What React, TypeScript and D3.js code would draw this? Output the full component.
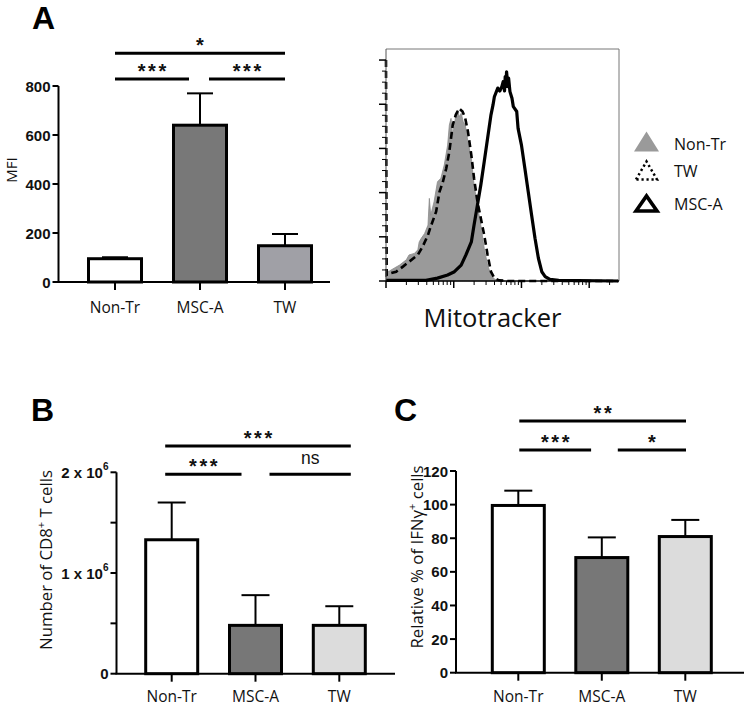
import React from 'react';
import * as d3 from 'd3';

// ---------- DATA ----------
const categories = ['Non-Tr', 'MSC-A', 'TW'];

const mfiMean = [95, 640, 148];
const mfiErr = [6, 130, 48];
const mfiTicks = [0, 200, 400, 600, 800];

const cd8Mean = [1330000, 480000, 480000];
const cd8Err = [370000, 300000, 190000];
const cd8Ticks = [0, 1000000, 2000000];
const cd8MinorTicks = [500000, 1500000];

const ifnMean = [99.5, 68.5, 81];
const ifnErr = [8.8, 12, 9.9];
const ifnTicks = [0, 20, 40, 60, 80, 100, 120];

type Sig = { a: number; b: number; label: string; level: number };
const mfiSig: Sig[] = [
  { a: 0, b: 2, label: '*', level: 1 },
  { a: 0, b: 1, label: '***', level: 0 },
  { a: 1, b: 2, label: '***', level: 0 },
];
const cd8Sig: Sig[] = [
  { a: 0, b: 2, label: '***', level: 1 },
  { a: 0, b: 1, label: '***', level: 0 },
  { a: 1, b: 2, label: 'ns', level: 0 },
];
const ifnSig: Sig[] = [
  { a: 0, b: 2, label: '**', level: 1 },
  { a: 0, b: 1, label: '***', level: 0 },
  { a: 1, b: 2, label: '*', level: 0 },
];

// Histogram (x = log10 decades of Mitotracker intensity, y = normalized count)
const nonTrX = [0, 0.05, 0.12, 0.2, 0.3, 0.34, 0.42, 0.47, 0.49, 0.52, 0.57, 0.62, 0.64, 0.66, 0.71, 0.76, 0.81, 0.86, 0.91, 0.935, 0.96, 0.985, 1.01, 1.03, 1.06, 1.08, 1.11, 1.14, 1.17, 1.21, 1.26, 1.3, 1.35, 1.4, 1.45, 1.5, 1.55, 1.6, 1.65, 1.75];
const nonTrY = [4.2, 4.5, 5.8, 7.2, 9.6, 11.8, 12.5, 14.1, 17.7, 19.3, 21.5, 25.3, 37.4, 29.8, 35.9, 44.9, 46.5, 52.5, 61.5, 70.6, 73.6, 66, 70.6, 75.2, 77.4, 74.3, 75.9, 72.1, 70.6, 63, 55.5, 43.5, 34.4, 25.3, 14.8, 7.2, 2.7, 0.9, 0.3, 0];

const twX = [0, 0.01, 0.07, 0.15, 0.25, 0.34, 0.47, 0.54, 0.62, 0.66, 0.74, 0.79, 0.84, 0.89, 0.935, 0.985, 1.03, 1.08, 1.13, 1.17, 1.21, 1.26, 1.3, 1.35, 1.4, 1.45, 1.5, 1.55, 1.6, 1.67, 1.8, 3.43];
const twY = [100, 2.7, 3.5, 4.2, 6.5, 8.7, 11.8, 15.5, 20.8, 24.6, 31.4, 40.4, 44.9, 51, 58.5, 70.6, 75.2, 78.1, 76.7, 73.6, 67.6, 57, 46.5, 35.9, 28.4, 20.8, 11.8, 4.2, 1.3, 0.3, 0, 0];

const mscX = [0, 0.59, 0.76, 0.91, 1.01, 1.11, 1.18, 1.26, 1.3, 1.35, 1.4, 1.45, 1.5, 1.55, 1.58, 1.6, 1.65, 1.68, 1.71, 1.73, 1.75, 1.76, 1.77, 1.78, 1.8, 1.81, 1.83, 1.86, 1.88, 1.93, 1.95, 2.0, 2.05, 2.1, 2.15, 2.2, 2.25, 2.3, 2.35, 2.42, 2.55, 3.43];
const mscY = [0.3, 0.3, 1.3, 2.7, 4.2, 7.2, 11.8, 17.7, 25.3, 34.4, 43.5, 54, 64.6, 75.2, 79.7, 83.4, 87.3, 86, 88, 90.2, 86, 92.5, 88, 94.7, 88, 91.8, 85.7, 82.7, 78.9, 76.7, 69.1, 61.5, 51, 40.4, 29.8, 19.3, 10.3, 4.2, 2, 0.7, 0.3, 0];

const histYTicks = [0, 20, 40, 60, 80, 100];
const histDecades = [0, 1, 2, 3];
const legendLabels = ['Non-Tr', 'TW', 'MSC-A'];

// ---------- STYLE ----------
const SANS = "'Open Sans', 'DejaVu Sans', sans-serif";
const ARIAL = "'Liberation Sans', Arial, sans-serif";
const INK = '#111';

type PanelCfg = {
  means: number[];
  errs: number[];
  ticks: number[];
  minor?: number[];
  sig: Sig[];
  colors: string[];
  axisX: number;
  axisEndX: number;
  yBottom: number;
  yTop: number;
  c0: number;
  c2: number;
  barW: number;
  capW: number;
  levelY: number[];
  padL: number;
  padR: number;
  gapL: number;
  gapR: number;
  fmt: (v: number) => React.ReactNode;
  title: React.ReactNode;
  titleSize: number;
  titleX: number;
  titleY: number;
  catBaseline: number;
  letter: string;
  letterX: number;
  letterY: number;
};

function StarLabel({ x, y, label }: { x: number; y: number; label: string }) {
  if (label === 'ns') {
    return (
      <text x={x} y={y - 8} textAnchor="middle" fontFamily={ARIAL} fontSize={17.5} fill={INK}>
        ns
      </text>
    );
  }
  const ls = 2.6;
  return (
    <text
      x={x + ls / 2}
      y={y + 1}
      textAnchor="middle"
      fontFamily={ARIAL}
      fontWeight={700}
      fontSize={20}
      letterSpacing={ls}
      fill={INK}
    >
      {label}
    </text>
  );
}

function BarPanel({ cfg }: { cfg: PanelCfg }) {
  const domMax = d3.max(cfg.ticks) as number;
  const y = d3.scaleLinear().domain([0, domMax]).range([cfg.yBottom, cfg.yTop]);
  const x = d3.scalePoint<string>().domain(categories).range([cfg.c0, cfg.c2]);
  return (
    <g>
      <text x={cfg.letterX} y={cfg.letterY} fontFamily={ARIAL} fontWeight={700} fontSize={32} fill="#000">
        {cfg.letter}
      </text>
      {/* bars */}
      {categories.map((c, i) => {
        const cx = x(c) as number;
        const top = y(cfg.means[i]);
        const et = y(cfg.means[i] + cfg.errs[i]);
        return (
          <g key={c}>
            <line x1={cx} x2={cx} y1={top} y2={et} stroke="#000" strokeWidth={2} />
            <line x1={cx - cfg.capW / 2} x2={cx + cfg.capW / 2} y1={et} y2={et} stroke="#000" strokeWidth={2} />
            <rect
              x={cx - cfg.barW / 2}
              y={top}
              width={cfg.barW}
              height={cfg.yBottom - top}
              fill={cfg.colors[i]}
              stroke="#000"
              strokeWidth={3}
            />
          </g>
        );
      })}
      {/* axes */}
      <line x1={cfg.axisX} x2={cfg.axisX} y1={cfg.yTop} y2={cfg.yBottom} stroke="#000" strokeWidth={2} />
      <line x1={cfg.axisX - 1} x2={cfg.axisEndX} y1={cfg.yBottom} y2={cfg.yBottom} stroke="#000" strokeWidth={2} />
      {cfg.ticks.map((t) => (
        <g key={t}>
          <line x1={cfg.axisX - 6} x2={cfg.axisX} y1={y(t)} y2={y(t)} stroke="#000" strokeWidth={2} />
          <text
            x={cfg.axisX - 8}
            y={y(t)}
            textAnchor="end"
            dominantBaseline="central"
            fontFamily={ARIAL}
            fontWeight={700}
            fontSize={15}
            fill={INK}
          >
            {cfg.fmt(t)}
          </text>
        </g>
      ))}
      {(cfg.minor || []).map((t) => (
        <line key={t} x1={cfg.axisX - 6} x2={cfg.axisX} y1={y(t)} y2={y(t)} stroke="#000" strokeWidth={2} />
      ))}
      {categories.map((c) => (
        <g key={c}>
          <line x1={x(c)} x2={x(c)} y1={cfg.yBottom} y2={cfg.yBottom + 8} stroke="#000" strokeWidth={2} />
          <text x={x(c)} y={cfg.catBaseline} textAnchor="middle" fontFamily={SANS} fontSize={15.5} fill={INK}>
            {c}
          </text>
        </g>
      ))}
      <text
        transform={`translate(${cfg.titleX},${cfg.titleY}) rotate(-90)`}
        textAnchor="middle"
        fontFamily={SANS}
        fontSize={cfg.titleSize}
        fill={INK}
      >
        {cfg.title}
      </text>
      {/* significance */}
      {cfg.sig.map((s, k) => {
        const x1 = (x(categories[s.a]) as number) + (s.a === 1 ? cfg.gapR : cfg.padL);
        const x2 = (x(categories[s.b]) as number) + (s.b === 1 ? -cfg.gapL : cfg.padR);
        const ly = cfg.levelY[s.level];
        return (
          <g key={k}>
            <line x1={x1} x2={x2} y1={ly} y2={ly} stroke="#000" strokeWidth={3} />
            <StarLabel x={(x1 + x2) / 2} y={ly - 2.5} label={s.label} />
          </g>
        );
      })}
    </g>
  );
}

function Histogram() {
  const hx = d3.scaleLinear().domain([0, 3.44]).range([386, 619]);
  const hy = d3.scaleLinear().domain([0, 105]).range([281, 49]);
  const area = d3
    .area<number>()
    .x((_, i) => hx(nonTrX[i]))
    .y0(hy(0))
    .y1((d) => hy(d));
  const line = (xs: number[]) =>
    d3
      .line<number>()
      .x((_, i) => hx(xs[i]))
      .y((d) => hy(d));
  const minorY: number[] = d3.range(5, 100, 5).filter((v) => v % 20 !== 0);
  const minorX: number[] = [];
  histDecades.forEach((k) => {
    for (let m = 2; m <= 9; m++) {
      const d = k + Math.log10(m);
      if (d < 3.44) minorX.push(d);
    }
  });
  const [x0, x1] = hx.range();
  const [yb, yt] = hy.range();
  return (
    <g>
      <path d={area(nonTrY) || ''} fill="#9a9a9a" stroke="#8a8a8a" strokeWidth={0.8} />
      <path d={line(twX)(twY) || ''} fill="none" stroke="#000" strokeWidth={2.6} strokeDasharray="7,4" />
      <path d={line(mscX)(mscY) || ''} fill="none" stroke="#000" strokeWidth={3.2} strokeLinejoin="round" />
      {/* frame */}
      <line x1={x0} x2={x1} y1={yt} y2={yt} stroke="#777" strokeWidth={1} />
      <line x1={x1} x2={x1} y1={yt} y2={yb} stroke="#777" strokeWidth={1} />
      <line x1={x0} x2={x0} y1={yt} y2={yb} stroke="#555" strokeWidth={1} />
      <line x1={x0} x2={x1} y1={yb} y2={yb} stroke="#000" strokeWidth={1.5} />
      {histYTicks.map((t) => (
        <line key={'y' + t} x1={x0 - 7} x2={x0} y1={hy(t)} y2={hy(t)} stroke="#000" strokeWidth={1.5} />
      ))}
      {minorY.map((t) => (
        <line key={'ym' + t} x1={x0 - 4} x2={x0} y1={hy(t)} y2={hy(t)} stroke="#000" strokeWidth={1} />
      ))}
      {histDecades.map((t) => (
        <line key={'x' + t} x1={hx(t)} x2={hx(t)} y1={yb} y2={yb + 7} stroke="#000" strokeWidth={1.5} />
      ))}
      {minorX.map((t, i) => (
        <line key={'xm' + i} x1={hx(t)} x2={hx(t)} y1={yb} y2={yb + 4} stroke="#000" strokeWidth={1} />
      ))}
      <text x={492.5} y={327} textAnchor="middle" fontFamily={SANS} fontSize={25.5} fill={INK}>
        Mitotracker
      </text>
      {/* legend */}
      {legendLabels.map((lab, i) => {
        const ty = [150, 177, 210][i];
        const cx = 646.5;
        const base = ty + 1.5;
        let tri: React.ReactNode;
        if (i === 0) {
          tri = <polygon points={`${cx - 12.5},${base} ${cx},${base - 20} ${cx + 12.5},${base}`} fill="#9a9a9a" />;
        } else if (i === 1) {
          tri = (
            <polygon
              points={`${cx - 10.5},${base + 1} ${cx},${base - 17} ${cx + 10.5},${base + 1}`}
              fill="none"
              stroke="#000"
              strokeWidth={2.5}
              strokeDasharray="2.2,2.8"
            />
          );
        } else {
          tri = (
            <polygon
              points={`${cx - 10.5},${base - 0.5} ${cx},${base - 15.5} ${cx + 10.5},${base - 0.5}`}
              fill="none"
              stroke="#000"
              strokeWidth={3.6}
              strokeLinejoin="miter"
            />
          );
        }
        return (
          <g key={lab}>
            {tri}
            <text x={674} y={ty} fontFamily={SANS} fontSize={16} fill={INK}>
              {lab}
            </text>
          </g>
        );
      })}
    </g>
  );
}

const sciFmt = (v: number) =>
  v === 0 ? (
    '0'
  ) : (
    <>
      {`${v / 1e6} x 10`}
      <tspan fontSize={10} dy={-6}>
        6
      </tspan>
    </>
  );

export default function App() {
  const panelA: PanelCfg = {
    means: mfiMean,
    errs: mfiErr,
    ticks: mfiTicks,
    sig: mfiSig,
    colors: ['#ffffff', '#787878', '#a0a0a6'],
    axisX: 58.5,
    axisEndX: 330,
    yBottom: 282,
    yTop: 86,
    c0: 115,
    c2: 285,
    barW: 53,
    capW: 26,
    levelY: [79, 53.3],
    padL: 0,
    padR: 0,
    gapL: 11,
    gapR: 9,
    fmt: (v) => String(v),
    title: 'MFI',
    titleSize: 15,
    titleX: 16.5,
    titleY: 170,
    catBaseline: 313,
    letter: 'A',
    letterX: 32,
    letterY: 29,
  };
  const panelB: PanelCfg = {
    means: cd8Mean,
    errs: cd8Err,
    ticks: cd8Ticks,
    minor: cd8MinorTicks,
    sig: cd8Sig,
    colors: ['#ffffff', '#777777', '#dcdcdc'],
    axisX: 116.5,
    axisEndX: 395,
    yBottom: 673.7,
    yTop: 472.3,
    c0: 171.7,
    c2: 339.3,
    barW: 52,
    capW: 28,
    levelY: [474.3, 446],
    padL: -6.5,
    padR: 11.5,
    gapL: 14,
    gapR: 14,
    fmt: sciFmt,
    title: (
      <>
        Number of CD8
        <tspan fontSize={11} dy={-7}>
          +
        </tspan>
        <tspan dy={7}> T cells</tspan>
      </>
    ),
    titleSize: 16.8,
    titleX: 52,
    titleY: 560,
    catBaseline: 702,
    letter: 'B',
    letterX: 31,
    letterY: 420.5,
  };
  const panelC: PanelCfg = {
    means: ifnMean,
    errs: ifnErr,
    ticks: ifnTicks,
    sig: ifnSig,
    colors: ['#ffffff', '#777777', '#dcdcdc'],
    axisX: 456,
    axisEndX: 744,
    yBottom: 672.7,
    yTop: 471,
    c0: 518.3,
    c2: 685.3,
    barW: 52,
    capW: 28,
    levelY: [450, 421],
    padL: 1,
    padR: 0.7,
    gapL: 10.7,
    gapR: 16,
    fmt: (v) => String(v),
    title: (
      <>
        Relative % of IFNγ
        <tspan fontSize={11} dy={-7}>
          +
        </tspan>
        <tspan dy={7}> cells</tspan>
      </>
    ),
    titleSize: 16.8,
    titleX: 423,
    titleY: 557,
    catBaseline: 702,
    letter: 'C',
    letterX: 394,
    letterY: 420.5,
  };
  return (
    <svg
      width={744}
      height={706}
      viewBox="0 0 744 706"
      style={{ position: 'absolute', left: 0, top: 0, background: '#fff' }}
    >
      <rect x={0} y={0} width={744} height={706} fill="#fff" />
      <BarPanel cfg={panelA} />
      <Histogram />
      <BarPanel cfg={panelB} />
      <BarPanel cfg={panelC} />
    </svg>
  );
}
